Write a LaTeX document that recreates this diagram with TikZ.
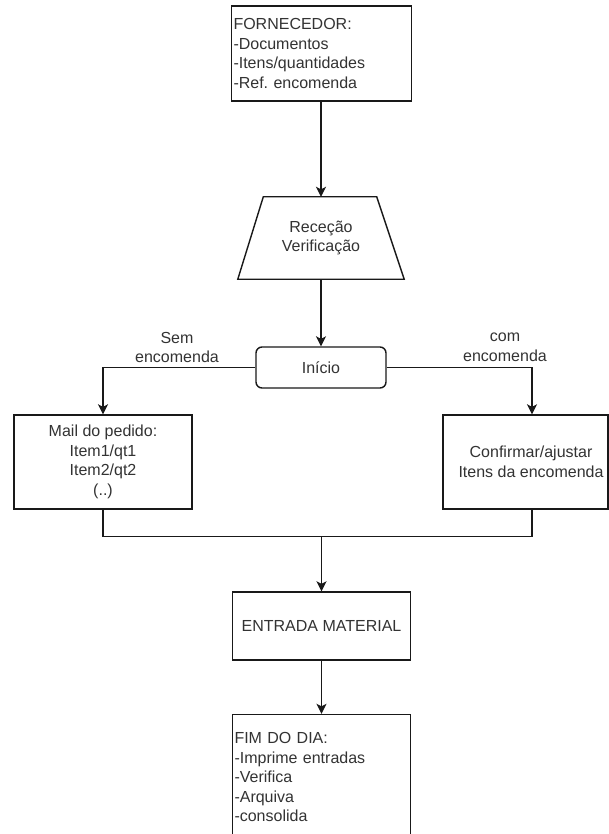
\documentclass[tikz,border=0pt]{standalone}
\usepackage{fontspec}
\setmainfont{Liberation Sans}
\usetikzlibrary{arrows.meta}
\frenchspacing
\begin{document}
\begin{tikzpicture}[x=1pt,y=-1pt,
  every node/.style={font=\fontsize{16}{19.5}\selectfont, text=black!80},
  line/.style={draw=black!90, line width=1.4pt},
  flow/.style={line, -{Stealth[length=10pt,width=10pt,inset=2.5pt]}},
  box/.style={line, fill=white, rectangle, inner sep=0pt},
  listbox/.style={box, align=left, text width=176pt, inner xsep=2pt},
  centerbox/.style={box, align=center},
  lbl/.style={align=center, inner sep=0pt}
]
\useasboundingbox (0,0) rectangle (609,834);
\clip (0,0) rectangle (609,834);
\fill[white] (0,0) rectangle (609,834);

% process boxes
\node[listbox, minimum width=180pt, minimum height=95pt] (forn) at (321.5,53.5)
  {FORNECEDOR:\\-Documentos\\-Itens/quantidades\\-Ref. encomenda};

% manual-operation trapezoid: the node spans the full outline, the sides are drawn around it
\node[lbl, minimum width=166pt, minimum height=82pt] (rec) at (321,238) {Receção\\Verificação};
\draw[line, line join=miter] (rec.south west) -- ([xshift=25.5pt]rec.north west)
  -- ([xshift=-27.5pt]rec.north east) -- (rec.south east) -- cycle;

\node[box, rounded corners=6pt, minimum width=130pt, minimum height=41pt] (inicio)
  at (321,367.5) {Início};
\node[centerbox, minimum width=178pt, minimum height=94pt] (mail) at (103,462)
  {Mail do pedido:\\Item1/qt1\\Item2/qt2\\(..)};
\node[box, minimum width=165pt, minimum height=94pt] (conf) at (525.5,462) {};
\node[lbl] (conftxt) at (531,462) {Confirmar/ajustar\\Itens da encomenda};
\node[centerbox, minimum width=178pt, minimum height=68pt] (entr) at (321.5,626)
  {ENTRADA MATERIAL};
\node[listbox, minimum width=178pt, minimum height=125pt, text width=174pt] (fim)
  at (321.5,777) {FIM DO DIA:\\-Imprime entradas\\-Verifica\\-Arquiva\\-consolida};

% branch labels
\node[lbl] (semlbl) at (177,347.5) {Sem\\encomenda};
\node[lbl] (comlbl) at (505,347.5) {com\\encomenda};

% routing points
\coordinate (cright) at (532,367.5);
\coordinate (join) at (321.5,536.5);

% connectors
\draw[flow] (forn.south -| rec.north) -- (rec.north);
\draw[flow] (rec.south) -- (inicio.north);
\draw[flow] (inicio.west) -| (mail.north);
\draw[flow] (inicio.east) -- (cright) -- (cright |- conf.north);
\draw[line] (mail.south) |- (join);
\draw[line] (cright |- conf.south) |- (join);
\draw[flow] (join) -- (join |- entr.north);
\draw[flow] (entr.south) -- (fim.north);
\end{tikzpicture}
\end{document}
